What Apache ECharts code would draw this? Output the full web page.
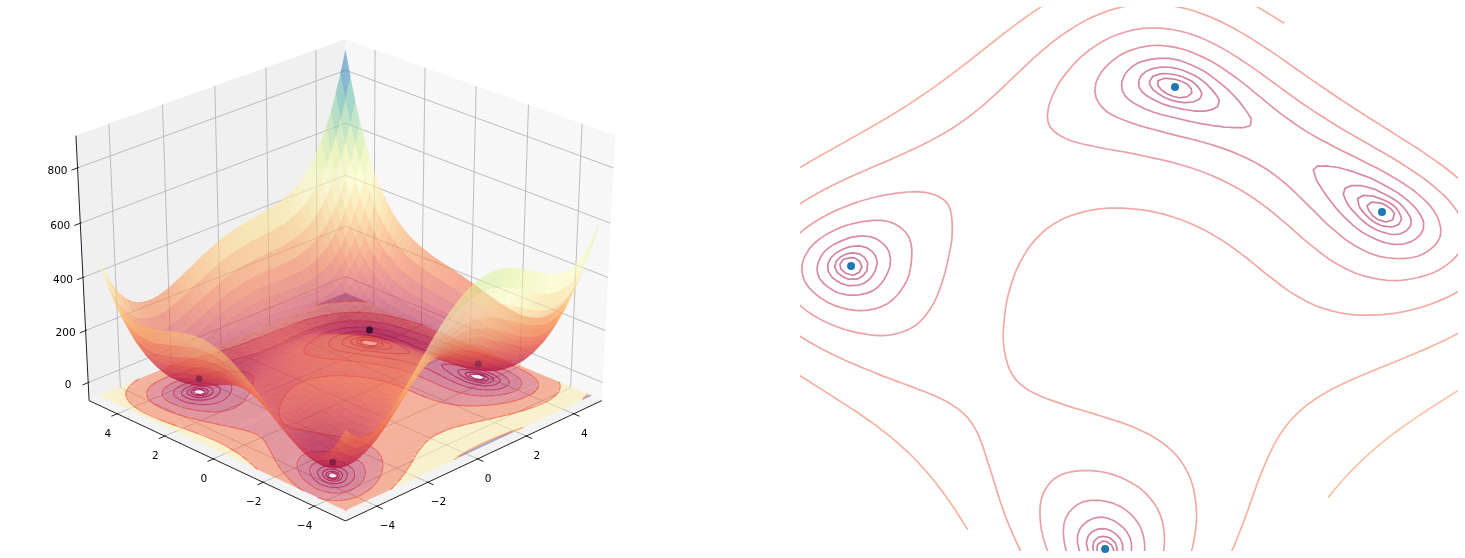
<!DOCTYPE html>
<html><head><meta charset="utf-8">
<style>html,body{margin:0;padding:0;background:#fff}#c{width:1465px;height:558px}</style>
<script src="https://cdn.jsdelivr.net/npm/echarts@6/dist/echarts.min.js"></script>
</head><body><div id="c"></div><script>
// ---------- data ----------
const xNodes=[-5,-4.5,-4,-3.5,-3,-2.5,-2,-1.5,-1,-.5,0,.5,1,1.5,2,2.5,3,3.5,4,4.5,5];
const yNodes=[-5,-4.5,-4,-3.5,-3,-2.5,-2,-1.5,-1,-.5,0,.5,1,1.5,2,2.5,3,3.5,4,4.5,5];
const heights=[
[250,200.3,196,224.3,274,335.3,400,461.3,514,554.3,580,590.3,586,569.3,544,515.3,490,476.3,484,524.3,610],
[158.3,99.1,85.8,105.6,147.3,201.1,258.8,313.6,360.3,395.1,415.8,421.6,413.3,393.1,364.8,333.6,306.3,291.1,297.8,337.6,423.3],
[116,47.8,26,37.8,72,118.8,170,218.8,260,289.8,306,307.8,296,272.8,242,208.8,180,163.8,170,209.8,296],
[110.3,33.6,3.8,8.1,35.3,75.6,120.8,164.1,200.3,225.6,237.8,236.1,221.3,195.6,162.8,128.1,98.3,81.6,87.8,128.1,215.3],
[130,45.3,8,5.3,26,60.3,100,138.3,170,191.3,200,195.3,178,150.3,116,80.3,50,33.3,40,81.3,170],
[165.3,73.1,28.8,19.6,34.3,63.1,97.8,131.6,159.3,177.1,182.8,175.6,156.3,127.1,91.8,55.6,25.3,9.1,16.8,59.6,150.3],
[208,108.8,58,42.8,52,75.8,106,135.8,160,174.8,178,168.8,148,117.8,82,45.8,16,.8,10,54.8,148],
[251.3,145.6,88.8,68.1,72.3,91.6,117.8,144.1,165.3,177.6,178.8,168.1,146.3,115.6,79.8,44.1,15.3,1.6,12.8,60.1,156.3],
[290,178.3,116,90.3,90,105.3,128,151.3,170,180.3,180,168.3,146,115.3,80,45.3,18,6.3,20,70.3,170],
[320.3,203.1,135.8,105.6,101.3,113.1,132.8,153.6,170.3,179.1,177.8,165.6,143.3,113.1,78.8,45.6,20.3,11.1,27.8,81.6,185.3],
[340,217.8,146,111.8,104,112.8,130,148.8,164,171.8,170,157.8,136,106.8,74,42.8,20,13.8,34,91.8,200],
[348.3,221.6,145.8,108.1,97.3,103.6,118.8,136.1,150.3,157.6,155.8,144.1,123.3,95.6,64.8,36.1,16.3,13.6,37.8,100.1,213.3],
[346,215.3,136,95.3,82,86.3,100,116.3,130,137.3,136,125.3,106,80.3,52,26.3,10,11.3,40,107.3,226],
[335.3,201.1,118.8,75.6,60.3,63.1,75.8,91.6,105.3,113.1,112.8,103.6,86.3,63.1,37.8,15.6,3.3,9.1,42.8,115.6,240.3],
[320,182.8,98,52.8,36,37.8,50,65.8,80,88.8,90,82.8,68,47.8,26,7.8,0,10.8,50,128.8,260],
[305.3,165.6,78.8,32.1,14.3,15.6,27.8,44.1,59.3,69.6,72.8,68.1,56.3,39.6,21.8,8.1,5.3,21.6,66.8,152.1,290.3],
[298,156.3,68,20.3,2,3.3,16,33.3,50,62.3,68,66.3,58,45.3,32,23.3,26,48.3,100,192.3,338],
[306.3,163.1,73.8,25.6,7.3,9.1,22.8,41.6,60.3,75.1,83.8,85.6,81.3,73.1,64.8,61.6,70.3,99.1,157.8,257.6,411.3],
[340,195.8,106,57.8,40,42.8,58,78.8,100,117.8,130,135.8,136,132.8,130,132.8,148,183.8,250,357.8,520],
[410.3,265.6,175.8,128.1,111.3,115.6,132.8,156.1,180.3,201.6,217.8,228.1,233.3,235.6,238.8,248.1,270.3,313.6,387.8,504.1,675.3],
[530,385.3,296,249.3,234,240.3,260,286.3,314,339.3,360,375.3,386,394.3,404,420.3,450,501.3,584,709.3,890]];
const minimaX=[3,-2.805,-3.779,3.584];
const minimaY=[2,3.131,-3.283,-1.848];
const minimaZ=[0,0,0,0];
const contourLevels=[1,2.2,4.84,10.6,23.4,51.5,113,246,538];
const fillTop=1205;
const xyTicks=[-4,-2,0,2,4];
const zTicks=[0,200,400,600,800];

// ---------- styles ----------
const lineFrac=[0,.01,.02,.04,.07,.12,.15,.19,.24];
const dotColors=['rgba(25,5,25,.95)','rgba(120,35,65,.9)','rgba(115,20,60,.9)','rgba(125,45,70,.9)'];
const SURF_ALPHA=.56, LINE_ALPHA=.5, FILL_ALPHA=.5, SEAM_PX=.12;
const spectral=[[158,1,66],[213,62,79],[244,109,67],[253,174,97],[254,224,139],[255,255,191],[230,245,152],[171,221,164],[102,194,165],[50,136,189],[94,79,162]];
function cmap(t,a){t=Math.max(0,Math.min(1,t))*10;const i=Math.min(9,Math.floor(t)),f=t-i,p=spectral[i],q=spectral[i+1];
 return 'rgba('+[0,1,2].map(k=>Math.round(p[k]+(q[k]-p[k])*f)).join(',')+','+a+')';}

// ---------- smoothing for drawing between table nodes ----------
function refine(line,k){const n=line.length,g=i=>i<0?3*line[0]-3*line[1]+line[2]:i>=n?3*line[n-1]-3*line[n-2]+line[n-3]:line[i],o=[];
 for(let i=0;i<n-1;i++)for(let s=0;s<k;s++){const t=s/k,a=g(i-1),b=g(i),c=g(i+1),d=g(i+2);
  o.push(.5*(2*b+(c-a)*t+(2*a-5*b+4*c-d)*t*t+(3*b-a-3*c+d)*t*t*t));}
 o.push(line[n-1]);return o;}
const K=5;
const step1=heights.map(r=>refine(r,K));
const N=step1[0].length;
const cols=[];for(let i=0;i<N;i++)cols.push(refine(step1.map(r=>r[i]),K));
const F=[];for(let j=0;j<N;j++){F.push(cols.map(c=>c[j]));}
const X0=xNodes[0],DX=(xNodes[1]-xNodes[0])/K,Y0=yNodes[0],DY=(yNodes[1]-yNodes[0])/K;
const gx=i=>X0+i*DX,gy=j=>Y0+j*DY;

// ---------- contour tracing from the table ----------
function trace(L){const pts={},adj={};
 const pt=(key,p)=>{pts[key]=p;adj[key]=adj[key]||[];};
 const link=(a,b)=>{adj[a].push(b);adj[b].push(a);};
 for(let j=0;j<N-1;j++)for(let i=0;i<N-1;i++){
  const a=F[j][i],b=F[j][i+1],c=F[j+1][i+1],d=F[j+1][i];
  const code=(a>L?1:0)|(b>L?2:0)|(c>L?4:0)|(d>L?8:0);if(code===0||code===15)continue;
  const E=[()=>['h'+i+','+j,[gx(i+(L-a)/(b-a)),gy(j)]],()=>['v'+(i+1)+','+j,[gx(i+1),gy(j+(L-b)/(c-b))]],
           ()=>['h'+i+','+(j+1),[gx(i+(L-d)/(c-d)),gy(j+1)]],()=>['v'+i+','+j,[gx(i),gy(j+(L-a)/(d-a))]]];
  const table={1:[[0,3]],2:[[0,1]],3:[[1,3]],4:[[1,2]],6:[[0,2]],7:[[2,3]],8:[[2,3]],9:[[0,2]],11:[[1,2]],12:[[1,3]],13:[[0,1]],14:[[0,3]]};
  let segs=table[code];
  if(code===5)segs=(a+b+c+d)/4>L?[[0,1],[2,3]]:[[0,3],[1,2]];
  if(code===10)segs=(a+b+c+d)/4>L?[[0,3],[1,2]]:[[0,1],[2,3]];
  segs.forEach(s=>{const e0=E[s[0]](),e1=E[s[1]]();pt(e0[0],e0[1]);pt(e1[0],e1[1]);link(e0[0],e1[0]);});
 }
 const seen={},out=[];
 const walk=st=>{const l=[pts[st]];seen[st]=1;let cur=st;for(;;){const nx=adj[cur].find(k=>!seen[k]);if(!nx)break;seen[nx]=1;l.push(pts[nx]);cur=nx;}
  if(adj[cur].includes(st)&&l.length>2)l.push(pts[st]);return l;};
 Object.keys(adj).forEach(k=>{if(!seen[k]&&adj[k].length===1)out.push(walk(k));});
 Object.keys(adj).forEach(k=>{if(!seen[k])out.push(walk(k));});
 return out;}
const contours=contourLevels.map((L,idx)=>({idx,lines:trace(L)}));

// ---------- 3D box and projection ----------
const XL=[-5.208,5.208],YL=[-5.208,5.208],ZL=[-70,915],FLOOR_Z=-50;
const EL=30*Math.PI/180,AZ=-135*Math.PI/180,DIST=10;
const W=[Math.cos(EL)*Math.cos(AZ),Math.cos(EL)*Math.sin(AZ),Math.sin(EL)];
const U=[-Math.sin(AZ),Math.cos(AZ),0];
const V=[-Math.sin(EL)*Math.cos(AZ),-Math.sin(EL)*Math.sin(AZ),Math.cos(EL)];
const dot=(a,b)=>a[0]*b[0]+a[1]*b[1]+a[2]*b[2];
function proj(x,y,z){const q=[(x-XL[0])/(XL[1]-XL[0])-.5,(y-YL[0])/(YL[1]-YL[0])-.5,(z-ZL[0])/(ZL[1]-ZL[0])-.5];
 const d=DIST-dot(q,W);return [dot(q,U)/d,dot(q,V)/d,dot(q,W)];}

// ---------- axes frames ----------
const SX=3717,SY=3058,CX=345.5,CY=271.4;
const LW=700,LH=558;
const RG={left:800,top:7,width:658,height:544};
const RCX=1128.3,RCY=278.5,RSU=46.7,RSV=38.3;

// ---------- series helper ----------
function layer(axis,items,draw,extra){return Object.assign({type:'custom',coordinateSystem:'cartesian2d',xAxisIndex:axis,yAxisIndex:axis,
 silent:true,animation:false,progressive:0,data:items.map((_,i)=>[i,0]),encode:{x:-1,y:-1},renderItem:(p,api)=>draw(items[p.dataIndex],api)},extra||{});}
const L3=(api,a)=>{const r=proj(a[0],a[1],a[2]);return api.coord([r[0],r[1]]);};

// panes
const [x0,x1]=XL,[y0,y1]=YL,[z0,z1]=ZL;
const panes=[
 {c:'#f0f0f0',p:[[x0,y1,z0],[x1,y1,z0],[x1,y1,z1],[x0,y1,z1]]},
 {c:'#f7f7f7',p:[[x1,y1,z0],[x1,y0,z0],[x1,y0,z1],[x1,y1,z1]]},
 {c:'#f3f3f3',p:[[x0,y0,z0],[x1,y0,z0],[x1,y1,z0],[x0,y1,z0]]}];
const polyDraw=(o,api)=>({type:'polygon',shape:{points:o.p.map(a=>L3(api,a))},style:{fill:o.c}});

// grid lines
const gridLines=[];
xyTicks.forEach(t=>{gridLines.push([[t,y0,z0],[t,y1,z0],[t,y1,z1]]);gridLines.push([[x0,t,z0],[x1,t,z0],[x1,t,z1]]);});
zTicks.forEach(t=>gridLines.push([[x0,y1,t],[x1,y1,t],[x1,y0,t]]));
const stroke3=(col,w)=>(l,api)=>({type:'polyline',shape:{points:l.map(a=>L3(api,a))},style:{fill:'none',stroke:col,lineWidth:w}});

// floor bands
const bandEdges=contourLevels.concat([fillTop]);
function bandOf(v){for(let b=0;b<bandEdges.length-1;b++)if(v>=bandEdges[b]&&v<bandEdges[b+1])return b;return -1;}
const bandMid=bandEdges.slice(0,-1).map((v,i)=>(v+bandEdges[i+1])/2);
const bandMax=bandMid[bandMid.length-1];
const bands=bandMid.map((m,b)=>({b,color:cmap(m/bandMax,FILL_ALPHA),runs:[]}));
for(let j=0;j<N-1;j++){let i=0;while(i<N-1){
  const v=(F[j][i]+F[j][i+1]+F[j+1][i]+F[j+1][i+1])/4,b=bandOf(v);let e=i+1;
  while(e<N-1&&bandOf((F[j][e]+F[j][e+1]+F[j+1][e]+F[j+1][e+1])/4)===b)e++;
  if(b>=0)bands[b].runs.push([gx(i),gx(e),gy(j),gy(j+1)]);i=e;}}
const bandDraw=(o,api)=>{let d='';o.runs.forEach(r=>{const P=[[r[0],r[2]],[r[1],r[2]],[r[1],r[3]],[r[0],r[3]]].map(a=>L3(api,[a[0],a[1],FLOOR_Z]));
  d+='M'+P[0][0].toFixed(2)+' '+P[0][1].toFixed(2)+'L'+P[1][0].toFixed(2)+' '+P[1][1].toFixed(2)+'L'+P[2][0].toFixed(2)+' '+P[2][1].toFixed(2)+'L'+P[3][0].toFixed(2)+' '+P[3][1].toFixed(2)+'Z';});
 return {type:'path',shape:{pathData:d},style:{fill:o.color}};};

// floor contour lines
const floorLines=[],planLines=[];
contours.forEach(c=>c.lines.forEach(l=>{floorLines.push({c:c.idx,l});planLines.push({c:c.idx,l});}));
const floorDraw=(o,api)=>({type:'polyline',shape:{points:o.l.map(a=>L3(api,[a[0],a[1],FLOOR_Z]))},style:{fill:'none',stroke:cmap(lineFrac[o.c],LINE_ALPHA+.2),lineWidth:1.2}});
const planDraw=(o,api)=>({type:'polyline',shape:{points:o.l.map(a=>api.coord([a[0]-a[1],a[0]+a[1]]))},style:{fill:'none',stroke:cmap(lineFrac[o.c],LINE_ALPHA),lineWidth:1.7}});

// surface quads
const STR=2,quads=[];
for(let j=0;j+STR<N;j+=STR)for(let i=0;i+STR<N;i+=STR){
 const P=[[gx(i),gy(j),F[j][i]],[gx(i+STR),gy(j),F[j][i+STR]],[gx(i+STR),gy(j+STR),F[j+STR][i+STR]],[gx(i),gy(j+STR),F[j+STR][i]]];
 const z=(P[0][2]+P[1][2]+P[2][2]+P[3][2])/4,d=P.reduce((s,a)=>s+proj(a[0],a[1],a[2])[2],0)/4;
 quads.push({p:P,c:cmap(z/890,SURF_ALPHA),d});}
quads.sort((a,b)=>a.d-b.d);
const quadDraw=(o,api)=>{const P=o.p.map(a=>L3(api,a));
 const cx=(P[0][0]+P[1][0]+P[2][0]+P[3][0])/4,cy=(P[0][1]+P[1][1]+P[2][1]+P[3][1])/4;
 return {type:'polygon',shape:{points:P.map(p=>{const dx=p[0]-cx,dy=p[1]-cy,l=Math.hypot(dx,dy)||1;return [p[0]+dx/l*SEAM_PX,p[1]+dy/l*SEAM_PX];})},style:{fill:o.c}};};

// axis lines + ticks + labels
const axisLines=[[[x0,y1,z1],[x0,y1,z0]],[[x0,y1,z0],[x0,y0,z0]],[[x0,y0,z0],[x1,y0,z0]]];
const T=.22,TI=.05,tickLines=[];
xyTicks.forEach(t=>{tickLines.push([[t,y0+TI,z0],[t,y0-T,z0]]);tickLines.push([[x0+TI,t,z0],[x0-T,t,z0]]);});
zTicks.forEach(t=>tickLines.push([[x0+TI,y1,t],[x0-T,y1,t]]));
const tickText=v=>String(v).replace('-','\u2212');
const labels=[];
xyTicks.forEach(t=>{labels.push({a:[t,y0,z0],t:tickText(t),dx:10.5,dy:20});labels.push({a:[x0,t,z0],t:tickText(t),dx:-9.5,dy:20});});
zTicks.forEach(t=>labels.push({a:[x0,y1,t],t:tickText(t),dx:-20,dy:3}));
const labelDraw=(o,api)=>{const c=L3(api,o.a);return {type:'text',style:{x:c[0]+o.dx,y:c[1]+o.dy,text:o.t,textAlign:'center',textVerticalAlign:'middle',font:'10.5px "DejaVu Sans"',fill:'#000'}};};

const leftDots=minimaX.map((x,i)=>{const r=proj(x,minimaY[i],minimaZ[i]);return {value:[r[0],r[1]],itemStyle:{color:dotColors[i]}};});
const rightDots=minimaX.map((x,i)=>[x-minimaY[i],x+minimaY[i]]);

const chart=echarts.init(document.getElementById('c'),null,{renderer:'canvas'});
const hid={show:false,type:'value'};
chart.setOption({animation:false,backgroundColor:'#fff',tooltip:{show:false},legend:{show:false},
 grid:[{left:0,top:0,width:LW,height:LH},RG],
 xAxis:[Object.assign({gridIndex:0,min:(0-CX)/SX,max:(LW-CX)/SX},hid),
        Object.assign({gridIndex:1,min:(RG.left-RCX)/RSU,max:(RG.left+RG.width-RCX)/RSU},hid)],
 yAxis:[Object.assign({gridIndex:0,min:(CY-LH)/SY,max:CY/SY},hid),
        Object.assign({gridIndex:1,min:(RCY-RG.top-RG.height)/RSV,max:(RCY-RG.top)/RSV},hid)],
 series:[
  layer(0,panes,polyDraw),
  layer(0,gridLines,stroke3('#bdbdbd',1)),
  layer(0,bands,bandDraw),
  layer(0,floorLines,floorDraw),
  layer(0,quads,quadDraw),
  {type:'scatter',xAxisIndex:0,yAxisIndex:0,symbolSize:7,silent:true,animation:false,data:leftDots},
  layer(0,axisLines,stroke3('#222',1)),
  layer(0,tickLines,stroke3('#222',1)),
  layer(0,labels,labelDraw),
  layer(1,planLines,planDraw,{clip:true}),
  {type:'scatter',xAxisIndex:1,yAxisIndex:1,symbolSize:8,silent:true,animation:false,clip:true,itemStyle:{color:'#1f77b4',opacity:1},data:rightDots}
 ]});
</script></body></html>
